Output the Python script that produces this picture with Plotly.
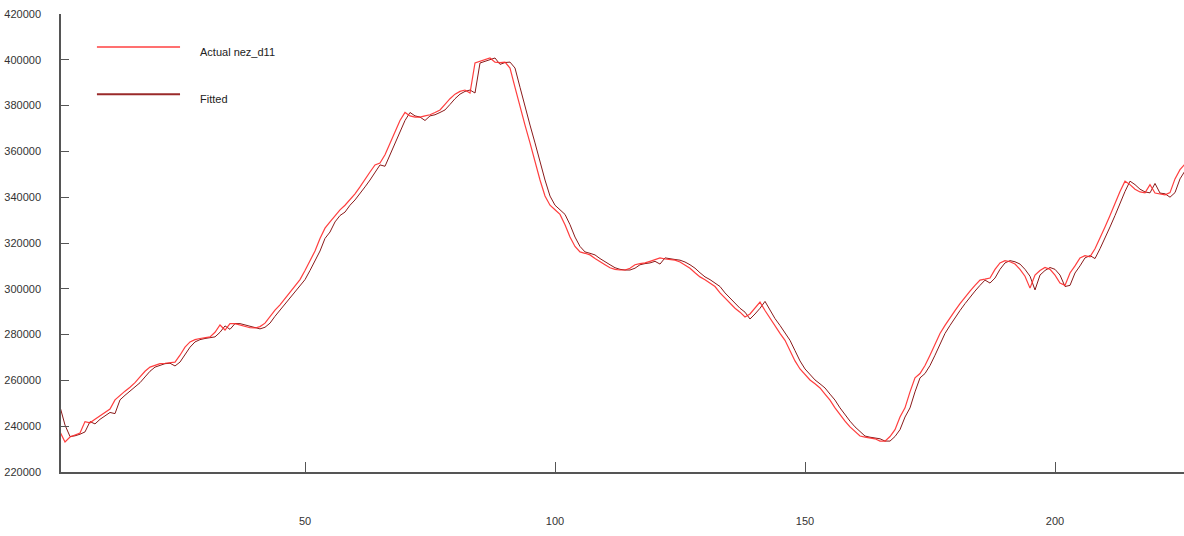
import plotly.graph_objects as go

# ---- data (index 1..226) ----
actual = [
    237500, 233100, 235300, 236300, 237000, 242000, 241500, 243000, 244500, 246000,
    247500, 251500, 253500, 255300, 257000, 259000, 261500, 264000, 265800, 266500,
    267300, 267500, 267600, 268000, 271000, 274500, 276800, 277800, 278300, 278500,
    279000, 281000, 284200, 282000, 284800, 284800, 284300, 283500, 283000, 282900,
    283500, 285000, 288000, 290700, 293000, 295800, 298500, 301000, 304000, 308000,
    312500, 316500, 322000, 326500, 329200, 332000, 334500, 336500, 338800, 341500,
    344500, 347500, 351000, 354100, 354900, 358500, 363500, 368500, 373500, 377000,
    375500, 375000, 375000, 375500, 376000, 377000, 378100, 380500, 383000, 385000,
    386200, 386800, 385500, 398600, 399300, 400000, 400800, 399000, 398800, 399000,
    396400, 388000, 379400, 371500, 363700, 355500, 347500, 340500, 336500, 334500,
    332500, 328000, 322600, 318500, 316100, 315500, 314800, 313200, 311700, 310500,
    309200, 308500, 308200, 308200, 309000, 310500, 311000, 311300, 312000, 312800,
    313500, 313000, 312800, 312500, 311700, 310500, 309000, 307000, 305200, 304000,
    302500, 301000, 298200, 296000, 293500, 291500, 289800, 287700, 289000, 291500,
    294200, 290500, 287000, 284000, 280500, 277500, 273000, 268500, 265000, 262500,
    260200, 258500, 256700, 254000, 251400, 248000, 244900, 242200, 239700, 237500,
    235700, 235200, 234800, 234500, 233500, 233500, 235500, 238500, 244000, 248000,
    255000, 261100, 263000, 266500, 271000, 276000, 280500, 284000, 287500, 290500,
    293500, 296500, 299000, 301500, 303800, 304200, 304700, 308500, 311300, 312300,
    311800, 310800, 308500, 305500, 300300, 306000, 308000, 309300, 308500, 306000,
    302500, 301500, 306900, 310000, 313500, 314500, 314000, 317500, 322000, 327000,
    332000, 337500, 342500, 347000, 345500, 343500, 342300, 341900, 345500, 341800,
    341500, 341000, 342000, 348000, 352000, 354500,
]

fitted = [
    248500, 240500, 235500, 235800, 236500, 237500, 242000, 241000, 243000, 244500,
    246000, 245500, 251500, 253500, 255300, 257000, 259000, 261500, 264000, 265800,
    266500, 267300, 267500, 266300, 268000, 271000, 274500, 276800, 277800, 278300,
    278500, 279000, 281000, 283800, 282300, 284800, 284800, 284300, 283500, 283000,
    282500, 283200, 285000, 288000, 290700, 293000, 295800, 298500, 301000, 304000,
    308000, 312500, 316500, 322000, 324800, 329200, 332000, 333500, 336500, 338800,
    341500, 344500, 347500, 351000, 354100, 353500, 358500, 363500, 368500, 373500,
    377000, 375500, 375000, 373500, 375500, 376000, 377000, 378100, 380500, 383000,
    385000, 386200, 386800, 385500, 398600, 399300, 400000, 400800, 398000, 398800,
    399000, 396400, 388000, 379400, 371500, 363700, 355500, 347500, 340500, 336500,
    334500, 332500, 328000, 322600, 318500, 316100, 315500, 314800, 313200, 311700,
    310500, 309200, 308500, 308200, 308200, 309000, 310500, 311000, 311300, 312000,
    310800, 313500, 313000, 312800, 312500, 311700, 310500, 309000, 307000, 305200,
    304000, 302500, 301000, 298200, 296000, 293500, 291500, 289800, 286800, 289000,
    291500, 294500, 290500, 287000, 284000, 280500, 277500, 273000, 268500, 265000,
    262500, 260200, 258500, 256700, 254000, 251400, 248000, 244900, 242200, 239700,
    237500, 235700, 235200, 234800, 234500, 233500, 233500, 235500, 238500, 244000,
    248000, 255000, 261100, 263000, 266500, 271000, 276000, 280500, 284000, 287500,
    290500, 293500, 296500, 299000, 301500, 303800, 302500, 304700, 308500, 311300,
    312300, 311800, 310800, 308500, 305500, 299500, 306000, 308000, 309300, 308500,
    306000, 301000, 301500, 306900, 310000, 313500, 314500, 313200, 317500, 322000,
    327000, 332000, 337500, 342500, 347000, 345500, 343500, 342300, 341900, 346000,
    341800, 341500, 340000, 342000, 348000, 351500,
]

x_index = list(range(1, len(actual) + 1))

y_ticks = [220000, 240000, 260000, 280000, 300000, 320000, 340000,
           360000, 380000, 400000, 420000]
x_ticks = [50, 100, 150, 200]

ACTUAL_COLOR = "#ff2a2a"
FITTED_COLOR = "#8a1a1a"
FONT = "Liberation Sans, Arial, sans-serif"

fig = go.Figure()
fig.add_trace(go.Scatter(x=x_index, y=fitted, mode="lines", name="Fitted",
                         line=dict(color=FITTED_COLOR, width=1), showlegend=False))
fig.add_trace(go.Scatter(x=x_index, y=actual, mode="lines", name="Actual nez_d11",
                         line=dict(color=ACTUAL_COLOR, width=1.2), opacity=0.9,
                         showlegend=False))

# legend drawn manually (line samples + labels)
legend_items = [("Actual nez_d11", "#ff7070", 0.928, 0.917),
                ("Fitted", "#9a2a2a", 0.825, 0.814)]
for label, col, ly, ty in legend_items:
    fig.add_shape(type="line", xref="paper", yref="paper",
                  x0=0.032, x1=0.106, y0=ly, y1=ly,
                  line=dict(color=col, width=2))
    fig.add_annotation(text=label, xref="paper", yref="paper", x=0.122, y=ty,
                       xanchor="left", yanchor="middle", showarrow=False,
                       font=dict(family=FONT, size=11, color="#222222"))

fig.update_layout(
    width=1184, height=536,
    margin=dict(l=61, r=0, t=14, b=64),
    paper_bgcolor="white", plot_bgcolor="white",
    font=dict(family=FONT, size=11, color="#333333"),
)
fig.update_xaxes(range=[1.2, 225.8], tickvals=x_ticks, ticks="inside", ticklen=10,
                 tickcolor="#555555", showline=True, linecolor="#555555",
                 linewidth=1.5, showgrid=False, zeroline=False,
                 ticklabelstandoff=38, automargin=False)
fig.update_yaxes(range=[220000, 420000], tickvals=y_ticks, ticks="inside",
                 ticklen=8, tickcolor="#555555", showline=True,
                 linecolor="#555555", linewidth=1.5, showgrid=False,
                 zeroline=False, tickformat="d", ticklabelstandoff=16,
                 automargin=False)

# remove the default 8px page margin so the figure fills the window exactly
fig.write_html("out.html", config={"displayModeBar": False},
               post_script="document.body.style.margin='0';")
